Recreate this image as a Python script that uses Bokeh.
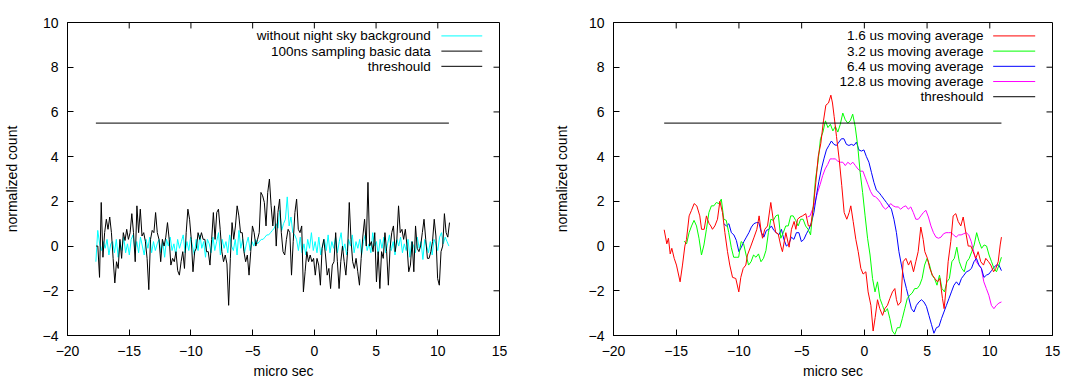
import numpy as np
from bokeh.plotting import figure
from bokeh.models import Range1d, FixedTicker, Label, Arrow
from bokeh.layouts import row
from bokeh.embed import file_html
from bokeh.resources import INLINE

FONT = "Liberation Sans"
FS = "14px"
KEY_FS = "13.5px"

x_ticks = [-20, -15, -10, -5, 0, 5, 10, 15]
y_ticks = [-4, -2, 0, 2, 4, 6, 8, 10]
threshold = 5.5

# ---------- left panel: 100 ns sampled data ----------
raw_t_start, raw_t_end = -17.68, 10.95
raw_counts = [0, 0, -1.4, 1.95, -0.5, 0.6, 1.2, 0.75, 1.3, 0.6, -0.55, -1.65, -0.7, -1.0, 0.3, -0.55, 0.6, 0.25,
              0.75, 0.3, 0.6, 1.45, 0.6, -0.7, 1.8, 0.6, 1.65, 0.45, 0.6, 0.2, -0.55, -1.95, 0.3, 0.7, 0.6, 1.5,
              0.6, 0.3, -0.7, 0.3, 0, 0.4, 1.05, 0.3, -0.85, -0.55, -0.7, -0.25, -1.1, -1.3, -0.7, -0.25, -1.0,
              0.6, 1.65, 1.2, 0.3, -1.15, -0.25, -0.1, 0.6, 0.3, 0.6, 0.3, 0.3, -0.25, -0.25, -0.85, 0.3, 1.5,
              0.3, 1.5, 1.65, 0.75, -0.25, -0.7, -0.4, -0.8, -2.65, -0.55, 1.05, 0.3, 0.9, 1.8, 1.35, 0.6, 0.6,
              -0.25, -0.7, -0.4, -1.3, -0.25, 0.9, 0.6, 0, 0.3, 0.6, 2.4, 2.25, 1.95, 0.9, 2.4, 3.0, 1.8, 0.9,
              1.8, 0, 1.5, 2.1, 0.6, -0.25, -0.4, 0.3, 0.75, 0.6, -1.3, 0.2, 1.5, 2.1, 0.75, 0.6, 0.9, -2.05,
              -1.15, -0.25, -0.7, -0.4, -0.7, -0.55, -1.3, -0.55, -0.85, -1.75, -0.1, 0.3, -0.4, -1.3, -1.0,
              -1.9, -0.85, -0.7, 0.6, -0.7, -1.9, -0.7, 0, -0.7, -1.3, -0.25, 1.95, 0.3, -0.7, -1.0, -0.55,
              -1.15, -1.75, -0.55, 0.45, 1.2, 0, 2.85, 0, 0.2, -0.25, 0.6, -1.6, -0.25, -1.9, -0.25, -0.55,
              0.6, -0.25, -1.75, -0.1, 0.6, 0.9, -0.25, 0.3, 1.8, 0.6, 0.75, 0.3, 0.75, 0, -1.15, -0.85, 0.2,
              -1.15, 0.9, -0.1, -0.25, 0, 0.6, 1.2, 0.3, -0.55, -0.55, -0.25, 0.2, 1.2, 0.45, -1.45, -1.75,
              -0.25, 0, 1.45, 0.6, 0.4, 1.05]

nsb_t_start, nsb_t_end = -17.7, 10.9
nsb_free_counts = [-0.7, 0.7, 0.1, -0.2, 0.2, -0.1, 0.3, -0.4, 0.1, 0.2, -0.3, 0.3, -0.5, 0.2, -0.2, 0.4, -0.3,
                   0.1, -0.4, 0.3, 0.5, -0.2, 0.2, -0.3, 0.4, 0.0, -0.4, 0.3, -0.1, 0.4, -0.3, 0.2, -0.2, 0.1,
                   0.3, -0.3, 0.2, -0.5, 0.3, 0.0, 0.4, -0.2, 0.1, -0.4, 0.3, -0.1, 0.2, 0.5, -0.3, 0.2, -0.2,
                   0.4, 0.0, -0.4, 0.3, -0.2, 0.5, -0.1, 0.2, -0.5, 0.3, 0.1, -0.3, 0.4, -0.2, 0.2, 0.6, -0.4,
                   0.3, -0.1, 0.2, -0.3, 0.5, 0.0, -0.2, 0.3, -0.4, 0.7, -0.1, 0.3, -0.3, 0.1, 0.4, -0.2, 0.2,
                   0.0, 0.3, 0.1,
                   0.2, 0.3, 0.3, 0.4, 0.5, 0.5, 0.6, 0.7, 0.8, 1.0, 0.8, 1.6, 0.7, 1.0, 1.2, 2.2, 0.9, 1.3,
                   0.6, 0.5,
                   0.3, -0.2, 0.4, -0.3, 0.1, -0.4, 0.3, -0.1, 0.6, -0.2, 0.2, -0.3, 0.4, -0.4, 0.0, 0.3, -0.2,
                   0.5, -0.3, 0.2, -0.1, 0.4, -0.3, 0.2, 0.6, -0.2, 0.1, -0.4, 0.3, 0.0, 0.5, -0.3, 0.2, -0.1,
                   0.3, -0.4, 0.2, 0.5, -0.2, 0.1, -0.3, 0.6, 0.0, 0.2, -0.4, 0.3, -0.1, 0.4, -0.3, 0.1, 0.5,
                   -0.2, 0.2, -0.4, 0.3, 0.0, 0.4, -0.3, 0.1, -0.2, 0.3, -0.5, 0.2, 0.0, -0.3, 0.4, -0.1, 0.2,
                   -0.6, 0.3, 0.0, -0.3, 0.2, -0.4, 0.3, 0.1, -0.2, 0.4, 0.6, 0.1, 0.4, 0.2, 0.0]

left_thr_t = [-17.7, 10.9]

# ---------- right panel: moving averages ----------
ma16_t = [-15.96, -15.75, -15.62, -15.48, -15.35, -15.16, -14.98, -14.69, -14.50, -14.31,
          -14.18, -13.97, -13.78, -13.57, -13.36, -13.12, -12.98, -12.77, -12.59, -12.51,
          -12.37, -12.24, -12.11, -11.92, -11.71, -11.52, -11.31, -11.12, -10.91, -10.73,
          -10.51, -10.25, -10.01, -9.85, -9.66, -9.45, -9.32, -9.05, -8.79, -8.57,
          -8.39, -8.25, -8.12, -7.94, -7.72, -7.46, -7.27, -7.06, -6.87, -6.66,
          -6.53, -6.26, -6.00, -5.81, -5.60, -5.46, -5.33, -5.12, -4.93, -4.67,
          -4.46, -4.27, -4.06, -3.87, -3.68, -3.47, -3.26, -3.07, -2.86, -2.67,
          -2.54, -2.41, -2.22, -2.01, -1.80, -1.61, -1.40, -1.21, -1.08, -0.89,
          -0.68, -0.49, -0.28, -0.10, 0.12, 0.30, 0.52, 0.70, 0.86, 1.05,
          1.23, 1.45, 1.63, 1.84, 2.03, 2.24, 2.43, 2.56, 2.69, 2.91,
          3.09, 3.31, 3.52, 3.70, 3.92, 4.10, 4.29, 4.50, 4.69, 4.82,
          5.03, 5.22, 5.43, 5.62, 5.83, 6.02, 6.23, 6.36, 6.49, 6.68,
          6.89, 7.08, 7.29, 7.48, 7.69, 7.88, 8.09, 8.28, 8.49, 8.67,
          8.89, 9.07, 9.28, 9.50, 9.68, 9.90, 10.08, 10.30, 10.48, 10.67,
          10.83, 10.93]
ma16_v = [0.73, 0.1, 0.35, -0.35, -0.1, -0.55, -0.85, -1.6, -0.85, 0,
          0.3, 1.35, 1.6, 1.9, 1.8, 1.35, 0.75, 0.75, 1.35, 1.2,
          1.0, 0.9, 0.75, 0.9, 1.2, 2.0, 1.5, 0.6, -0.25, -0.85,
          -1.4, -1.45, -2.05, -1.4, -1.0, -0.85, -0.4, 0, 0.4, 0.75,
          1.35, 0.75, 0.35, 0.75, 0.9, 1.95, 1.2, 0.6, 0.55, 0,
          -0.25, 0.6, -0.05, 0.75, 1.1, 0.75, 1.2, 1.3, 1.35, 1.45,
          0.9, 0.9, 1.8, 2.85, 4.0, 4.6, 5.6, 6.3, 6.4, 6.75,
          6.4, 5.8, 4.9, 3.9, 2.7, 1.5, 1.2, 1.5, 1.8, 1.1,
          0.3, -0.25, -1.0, -1.25, -1.15, -2.05, -2.65, -3.8, -3.2, -2.4,
          -2.8, -3.1, -2.8, -2.65, -2.35, -2.05, -1.9, -2.4, -2.65, -2.5,
          -0.7, -0.55, -0.85, -0.65, -1.15, -0.7, -0.25, 0.85, 0.3, -0.25,
          -0.55, -1.0, -1.3, -1.45, -1.6, -1.45, -2.35, -2.8, -2.05, -0.7,
          0.2, 1.35, 1.45, 1.1, 0.9, 1.3, 0.6, 0, 0, -0.25,
          -0.55, -0.25, -0.7, -0.85, -0.55, -0.7, -0.85, -1.15, -1.0, -0.7,
          0.05, 0.4]

ma32_t_start, ma32_t_end = -14.37, 10.93
ma32_v = [0.22, 0.1, 0.6, 0.9, 1.15, 0.9, 0.35, -0.4, 0.05, 0.75, 1.5, 1.8, 1.8, 1.95, 1.9, 2.1, 1.2,
          1.15, 0.6, -0.05, -0.5, -0.5, -0.5, 0.2, 0.1, -0.4, -0.85, -0.7, -0.4, -0.5, -0.35, -0.7, -0.55,
          -0.2, 0.6, 1.2, 1.15, 1.35, 1.4, 0.35, 0.6, 0.9, 0.9, 1.35, 1.35, 1.15, 0.9, 1.2, 1.2, 0.9, 0.75,
          0.5, 1.65, 3.0, 3.75, 4.8, 5.1, 5.6, 5.3, 5.45, 5.15, 5.35, 5.1, 5.45, 5.95, 5.65, 5.5, 5.6, 5.9,
          5.35, 4.5, 3.3, 2.4, 1.35, 0.35, -0.4, -1.45, -2.05, -1.6, -2.35, -2.65, -2.95, -2.8, -3.25,
          -3.8, -3.95, -3.65, -3.65, -3.25, -2.8, -2.35, -2.2, -2.1, -1.9, -1.9, -1.75, -1.45, -0.85,
          -0.55, -0.85, -1.3, -1.45, -1.75, -1.3, -1.9, -2.05, -1.6, -1.45, -0.7, -0.55, -0.05, -0.7,
          -1.0, -1.15, -0.7, -0.55, -0.25, 0.05, 0.6, 0.2, -0.1, 0.05, 0, -0.4, -0.7, -1.0, -1.15,
          -0.85, -0.5]

ma64_t_start, ma64_t_end = -11.20, 10.93
ma64_v = [1.0, 0.9, 1.0, 0.6, 0.5, 0.25, -0.25, -0.05, 0.2, 0.4, 0.6, 0.85, 1.0, 1.05, 1.05, 0.6, 0.4,
          0.7, 0.75, 0.9, 0.7, 0.6, 0.5, 0.75, 0.3, 0, 0.1, 0.4, 0.3, 0.6, 0.6, 0.2, 0.3, 0.55, 0.75,
          1.05, 1.5, 2.25, 2.9, 3.45, 3.9, 4.3, 4.5, 4.7, 4.55, 4.5, 4.65, 4.8, 4.8, 4.55, 4.5, 4.55,
          4.5, 4.65, 4.3, 4.25, 4.3, 4.0, 3.75, 3.3, 2.85, 2.5, 2.4, 2.25, 2.1, 1.95, 1.8, 1.65, 1.2,
          0.6, -0.25, -0.85, -1.45, -1.9, -2.35, -2.8, -2.95, -2.65, -2.5, -2.4, -2.5, -2.7, -3.1,
          -3.5, -3.9, -3.65, -3.6, -3.25, -2.95, -2.65, -2.35, -2.05, -1.75, -1.6, -1.75, -1.45,
          -1.3, -1.15, -1.1, -1.0, -0.7, -0.55, -0.85, -1.0, -1.4, -1.3, -1.25, -1.1, -0.95, -0.85,
          -0.85, -1.1]

ma128_t_start, ma128_t_end = -4.53, 10.93
ma128_v = [1.3, 1.35, 1.65, 1.95, 2.4, 2.75, 3.15, 3.45, 3.65, 3.9, 3.9, 3.9, 3.8, 3.75, 3.75, 3.6,
           3.75, 3.65, 3.75, 3.6, 3.45, 3.35, 3.35, 3.05, 2.75, 2.45, 2.25, 2.2, 2.1, 1.95, 1.75, 1.65,
           1.75, 1.9, 1.8, 1.75, 1.75, 1.65, 1.75, 1.8, 1.65, 1.75, 1.5, 1.2, 1.2, 1.35, 1.5, 1.6, 1.3,
           0.9, 0.6, 0.4, 0.35, 0.4, 0.55, 0.6, 0.6, 0.6, 0.5, 0.4, 0.5, 0.5, 0.55, 0.6, 0.5, 0.2,
           -0.25, -0.7, -0.85, -1.0, -1.6, -1.9, -2.2, -2.65, -2.8, -2.65, -2.55, -2.5]

right_thr_t = [-15.96, 10.93]

left_keys = ["without night sky background", "100ns sampling basic data", "threshould"]
left_key_colors = ["#00ffff", "#000000", "#000000"]
right_keys = ["1.6 us moving average", "3.2 us moving average", "6.4 us moving average",
              "12.8 us moving average", "threshould"]
right_key_colors = ["#ff0000", "#00ff00", "#0000ff", "#ff00ff", "#000000"]

FIG_H = 381
FRAME_TOP = 22
FRAME_H = 315
TICK_PX = 6


def style_axis(ax):
    ax.major_tick_in = TICK_PX
    ax.major_tick_out = 0
    ax.minor_tick_in = 0
    ax.minor_tick_out = 0
    ax.axis_line_color = "black"
    ax.major_tick_line_color = "black"
    ax.major_label_text_color = "black"
    ax.major_label_text_font = FONT
    ax.major_label_text_font_size = FS
    ax.axis_label_text_font = FONT
    ax.axis_label_text_font_size = FS
    ax.axis_label_text_font_style = "normal"
    ax.axis_label_text_color = "black"


def make_fig(width, bl, br, ylab_standoff):
    p = figure(width=width, height=FIG_H, x_range=Range1d(-20, 15), y_range=Range1d(-4, 10),
               output_backend="svg", toolbar_location=None,
               min_border_left=bl, min_border_right=br, min_border_top=FRAME_TOP,
               min_border_bottom=FIG_H - FRAME_TOP - FRAME_H)
    p.xgrid.visible = False
    p.ygrid.visible = False
    p.outline_line_color = "black"
    p.outline_line_alpha = 1
    p.background_fill_color = "white"
    p.border_fill_color = "white"
    p.xaxis.ticker = FixedTicker(ticks=x_ticks)
    p.yaxis.ticker = FixedTicker(ticks=y_ticks)
    for ax in p.xaxis + p.yaxis:
        style_axis(ax)
    p.xaxis.axis_label = "micro sec"
    p.xaxis.major_label_standoff = 10
    p.xaxis.axis_label_standoff = 4
    p.yaxis.axis_label = "normalized count"
    p.yaxis.major_label_standoff = 9
    p.yaxis.axis_label_standoff = ylab_standoff
    # mirrored ticks on top and right border (gnuplot style)
    frame_w = width - bl - br
    dy = TICK_PX * 14.0 / FRAME_H
    dx = TICK_PX * 35.0 / frame_w
    for xt in x_ticks[1:-1]:
        p.add_layout(Arrow(x_start=xt, y_start=10, x_end=xt, y_end=10 - dy, start=None, end=None,
                           line_color="black", line_width=1))
    for yt in y_ticks[1:-1]:
        p.add_layout(Arrow(x_start=15, y_start=yt, x_end=15 - dx, y_end=yt, start=None, end=None,
                           line_color="black", line_width=1))
    return p


def add_key(p, names, colors, x_text, x0, x1, ys):
    for name, c, y in zip(names, colors, ys):
        p.add_layout(Label(x=x_text, y=y, text=name, text_align="right", text_baseline="middle",
                           text_font=FONT, text_font_size=KEY_FS, text_color="black"))
        p.add_layout(Arrow(x_start=x0, y_start=y, x_end=x1, y_end=y, start=None, end=None,
                           line_color=c, line_width=1))


# left figure
p1 = make_fig(540, 66, 41, 20)
raw_t = np.linspace(raw_t_start, raw_t_end, len(raw_counts))
nsb_t = np.linspace(nsb_t_start, nsb_t_end, len(nsb_free_counts))
p1.line(nsb_t, nsb_free_counts, line_color="#00ffff", line_width=1)
p1.line(raw_t, raw_counts, line_color="#000000", line_width=1)
p1.line(left_thr_t, [threshold] * len(left_thr_t), line_color="#000000", line_width=1)
add_key(p1, left_keys, left_key_colors, 9.43, 10.29, 13.6, [9.40, 8.72, 8.04])

# right figure
p2 = make_fig(533, 73, 21, 16)
p2.line(np.linspace(ma128_t_start, ma128_t_end, len(ma128_v)), ma128_v, line_color="#ff00ff", line_width=1)
p2.line(np.linspace(ma64_t_start, ma64_t_end, len(ma64_v)), ma64_v, line_color="#0000ff", line_width=1)
p2.line(np.linspace(ma32_t_start, ma32_t_end, len(ma32_v)), ma32_v, line_color="#00ff00", line_width=1)
p2.line(ma16_t, ma16_v, line_color="#ff0000", line_width=1)
p2.line(right_thr_t, [threshold] * len(right_thr_t), line_color="#000000", line_width=1)
add_key(p2, right_keys, right_key_colors, 9.5, 10.27, 13.62, [9.40, 8.72, 8.04, 7.36, 6.68])

layout = row(p1, p2)
open("out.html", "w").write(file_html(layout, INLINE))
